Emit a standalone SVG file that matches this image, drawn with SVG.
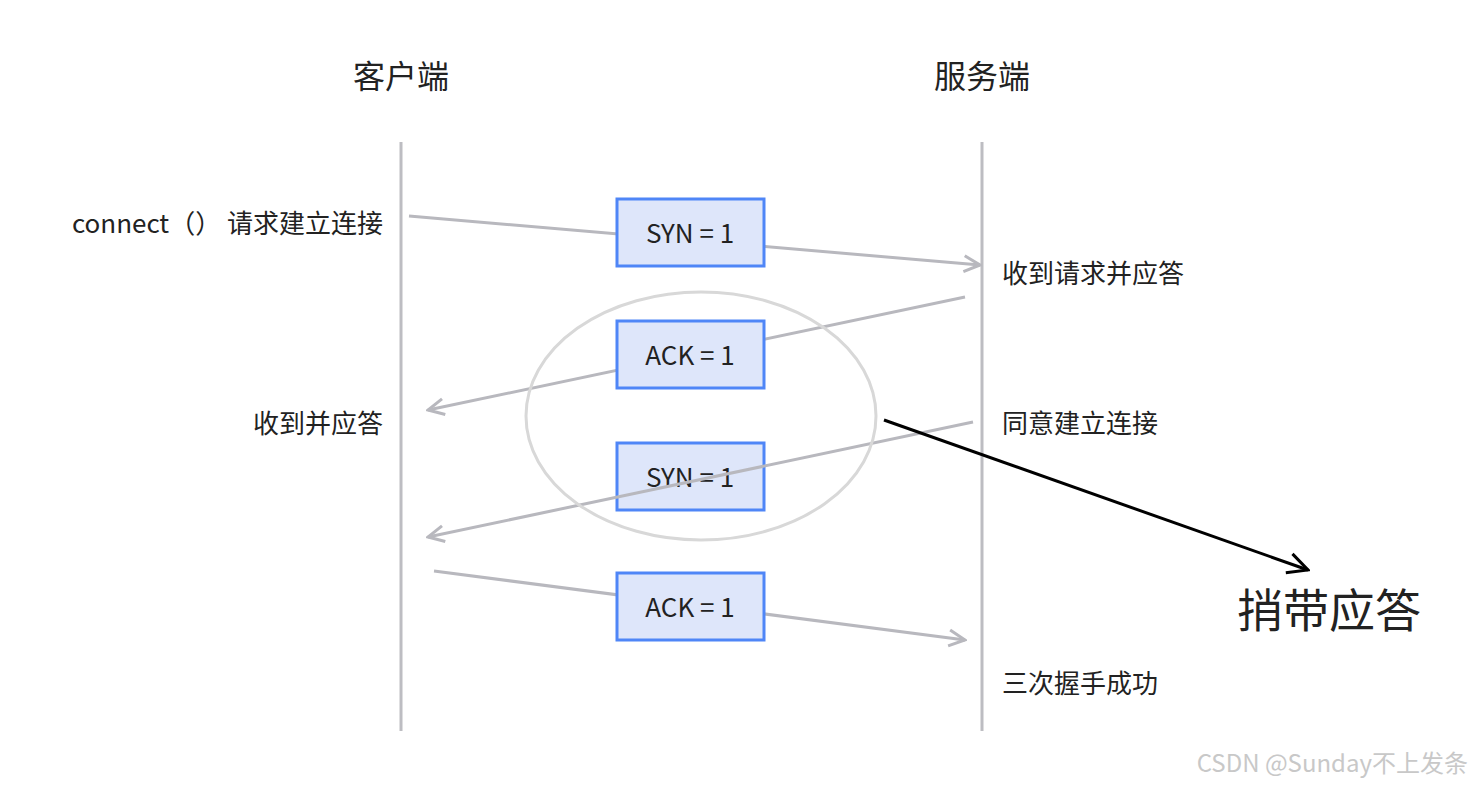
<svg xmlns="http://www.w3.org/2000/svg" width="1474" height="788" viewBox="0 0 1474 788">
<style>
text{font-family:"Noto Sans CJK SC","Noto Sans",sans-serif;fill:#222}
.t{font-size:26px}
.h{font-size:32px}
.life{stroke:#bdbdc2;stroke-width:3}
.msg{stroke:#b8b8be;stroke-width:3;fill:none}
.box rect{fill:#dee6fa;stroke:#4f86f7;stroke-width:3}
.box text{font-size:26px;text-anchor:middle}
</style>
<defs>
<marker id="ch" viewBox="0 0 20 20" refX="18" refY="10" markerWidth="20" markerHeight="20" markerUnits="userSpaceOnUse" orient="auto">
<path d="M2 2 L18 10 L2 18" fill="none" stroke="#b8b8be" stroke-width="3"/>
</marker>
<marker id="bk" viewBox="0 0 24 24" refX="22" refY="12" markerWidth="24" markerHeight="24" markerUnits="userSpaceOnUse" orient="auto">
<path d="M2 2 L22 12 L2 22" fill="none" stroke="#000" stroke-width="3"/>
</marker>
</defs>
<g id="client"><text class="h" x="401" y="88" text-anchor="middle">客户端</text><line class="life" x1="401" y1="142" x2="401" y2="731"/></g>
<g id="server"><text class="h" x="982" y="88" text-anchor="middle">服务端</text><line class="life" x1="982" y1="142" x2="982" y2="731"/></g>
<g id="connectors">
<line class="msg" x1="409" y1="216" x2="980" y2="265" marker-end="url(#ch)"/>
<line class="msg" x1="965" y1="297" x2="428" y2="410" marker-end="url(#ch)"/>
<line class="msg" x1="434" y1="571" x2="965" y2="640" marker-end="url(#ch)"/>
</g>
<g id="b1" class="box"><rect x="617" y="199" width="147" height="67"/><text x="690" y="243">SYN = 1</text></g>
<g id="b2" class="box"><rect x="617" y="321" width="147" height="67"/><text x="690" y="365">ACK = 1</text></g>
<g id="b3" class="box"><rect x="617" y="443" width="147" height="67"/><text x="690" y="487">SYN = 1</text></g>
<g id="b4" class="box"><rect x="617" y="573" width="147" height="67"/><text x="690" y="617">ACK = 1</text></g>
<g id="connectors2">
<line class="msg" x1="973" y1="422" x2="428" y2="537" marker-end="url(#ch)"/>
<ellipse cx="701" cy="416" rx="175" ry="124" fill="none" stroke="#d8d8d8" stroke-width="3"/>
<line x1="884" y1="420" x2="1308" y2="570" stroke="#000" stroke-width="3" marker-end="url(#bk)"/>
</g>
<g id="labels">
<text class="t" x="383" y="233" text-anchor="end">connect（） 请求建立连接</text>
<text class="t" x="1002" y="283">收到请求并应答</text>
<text class="t" x="383" y="433" text-anchor="end">收到并应答</text>
<text class="t" x="1002" y="433">同意建立连接</text>
<text class="t" x="1002" y="693">三次握手成功</text>
<text x="1237" y="627" font-size="46">捎带应答</text>
<text x="1468" y="772" font-size="24" text-anchor="end" style="fill:#c8c8c8">CSDN @Sunday不上发条</text>
</g>
</svg>
